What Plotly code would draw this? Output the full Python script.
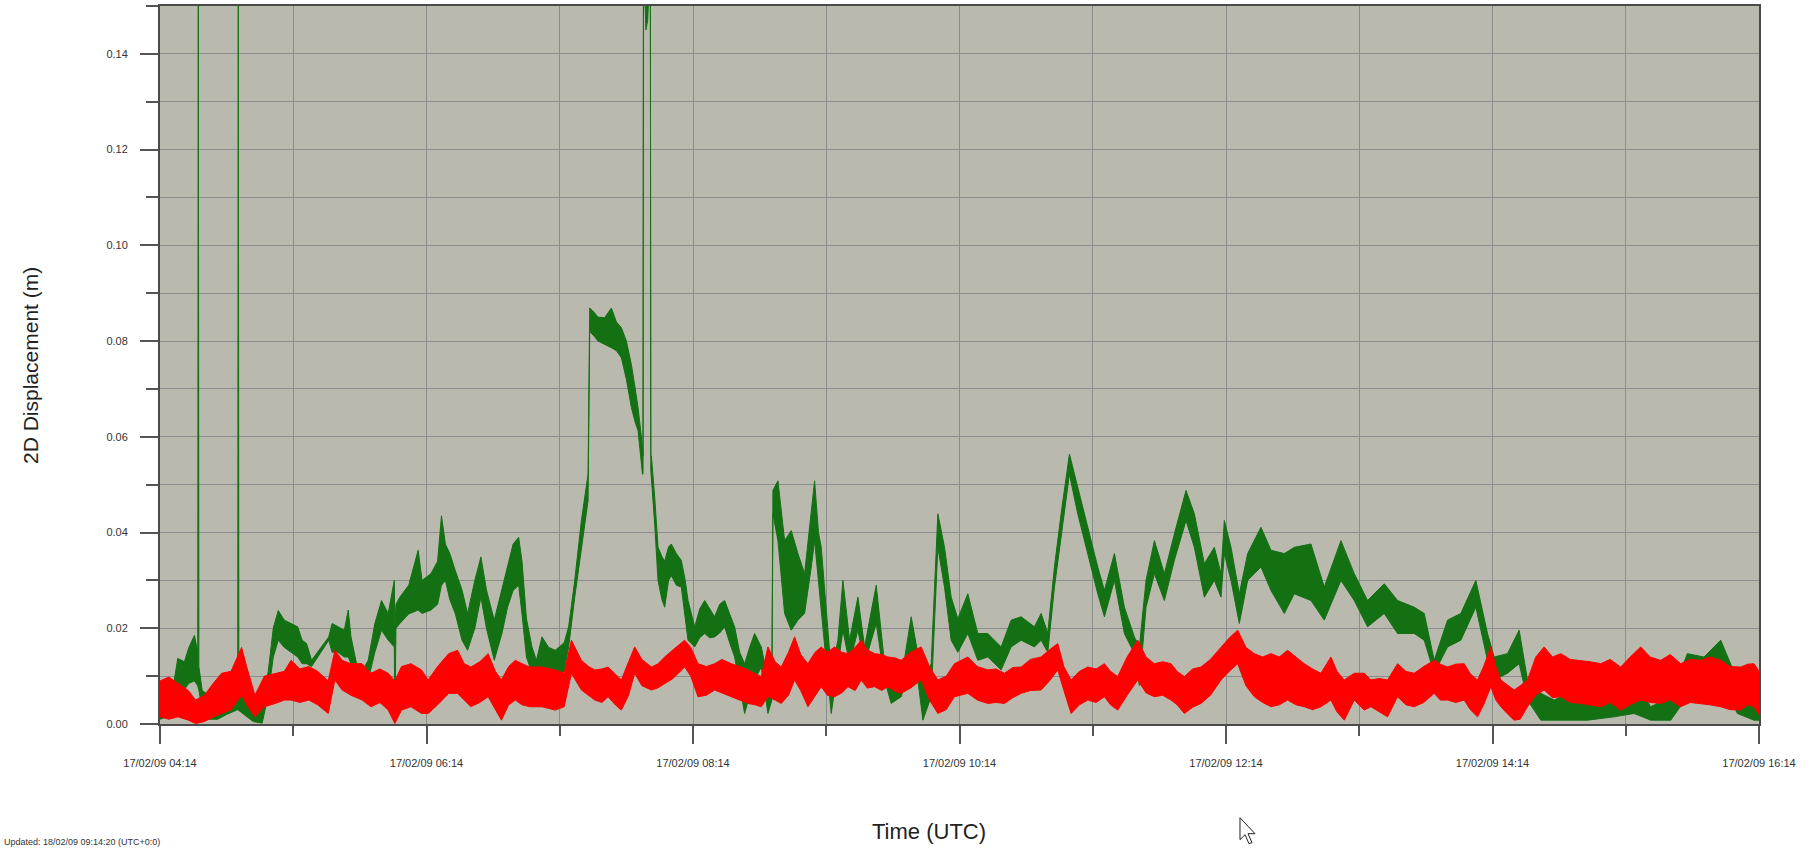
import pandas as pd
import plotly.graph_objects as go

# Session start (UTC); sample times below are minutes after this instant
START = pd.Timestamp("2009-02-17 04:14")
END = pd.Timestamp("2009-02-17 16:14")

# Green receiver: envelope (low / high) of the 2D displacement, metres
green_minutes = [0, 3, 6, 8, 11, 13, 15.5, 17.0, 17.25, 17.5, 19, 22, 26, 30, 35.0, 35.25, 35.5, 38, 42, 46,
                 48.75, 51, 53.25, 56, 59, 62, 64, 66, 68.25, 76, 77.5, 80, 83, 84.75, 86, 88.5, 92, 93.75,
                 96.75, 99.75, 102.75, 105.5, 105.75, 106.25, 108, 112, 116.25, 118, 122, 125, 126.75,
                 128.5, 130.5, 133, 136, 138.5, 141.75, 144.5, 147, 150.5, 154, 156.5, 159, 161.5, 163,
                 165, 167.5, 169.5, 172, 175, 178, 182, 184, 186.75, 189.75, 192.75, 193.5, 195.5, 197.25,
                 200.25, 203.25, 205.5, 207.75, 210, 212.25, 214, 215.25, 217.25, 217.5, 217.7, 218.8,
                 219.6, 220.8, 221.0, 221.25, 222.75, 224.25, 226, 227.25, 229, 230.25, 232.5, 234.75,
                 236.5, 237.75, 240.75, 243, 245.25, 247.5, 249.75, 252, 254.25, 256.5, 258.75, 261,
                 263.25, 265.5, 267.75, 270.75, 272.5, 273.75, 275.5, 276, 278.25, 281.25, 284.25, 287.25,
                 290.25, 293.25, 294.75, 296.5, 297.75, 300.75, 302.25, 305.25, 307.5, 310.5, 314.25,
                 317.25, 322.5, 326.25, 329.25, 333.75, 338.25, 341.25, 343.5, 347.25, 350.25, 353.25,
                 356.25, 359.25, 363.75, 368.25, 372.75, 378.75, 383.25, 387.75, 393.75, 396.75, 399.75,
                 402.75, 405.75, 409.5, 413.25, 417.75, 422.25, 425.25, 429.75, 434.25, 438.75, 441, 444,
                 447.75, 452.25, 456.75, 462, 465.75, 470.25, 474.75, 477.75, 479.25, 482.25, 486, 489.75,
                 495.75, 500.25, 506.25, 510.75, 518.25, 524.25, 531.75, 537.75, 543.75, 551.25, 557.25,
                 564.75, 569.25, 573.75, 579.75, 585.75, 592.5, 597.75, 600.75, 606.75, 612, 615.75,
                 621.75, 627.75, 636.75, 642.75, 654.75, 663.75, 671.25, 680.25, 687.75, 695.25, 702.75,
                 710.25, 717.75, 720]
green_low = [0.0010, 0.0015, 0.0030, 0.0070, 0.0072, 0.0085, 0.0090, 0.0080, 0.0080, 0.0070, 0.0030, 0.0010,
             0.0010, 0.0020, 0.0030, 0.0030, 0.0030, 0.0020, 0.0005, 0.0002,
             0.0060, 0.0140, 0.0175, 0.0160, 0.0150, 0.0140, 0.0126, 0.0126, 0.0120, 0.0175, 0.0150, 0.0150,
             0.0140, 0.0140, 0.0126, 0.0092, 0.0085, 0.0092,
             0.0150, 0.0196, 0.0175, 0.0161, 0.0005, 0.0200, 0.0210, 0.0230, 0.0238, 0.0231, 0.0238, 0.0250,
             0.0290,
             0.0300, 0.0260, 0.0230, 0.0175, 0.0154, 0.0200, 0.0265, 0.0200, 0.0133, 0.0190, 0.0244, 0.0279,
             0.0290, 0.0230,
             0.0140, 0.0106, 0.0092, 0.0119, 0.0100, 0.0100, 0.0110, 0.0161, 0.0265, 0.0369, 0.0467, 0.0820,
             0.0810, 0.0800,
             0.0793, 0.0786, 0.0780, 0.0765, 0.0720, 0.0661, 0.0630, 0.0613, 0.0522, 0.0522, 0.1600, 0.1450,
             0.1470, 0.1600, 0.0530, 0.0500, 0.0418, 0.0300, 0.0260, 0.0244, 0.0300, 0.0310, 0.0290, 0.0286,
             0.0220, 0.0175, 0.0161, 0.0180, 0.0189, 0.0180, 0.0182, 0.0190, 0.0203, 0.0170, 0.0140, 0.0080,
             0.0022, 0.0060, 0.0092, 0.0119, 0.0060, 0.0022, 0.0050, 0.0439, 0.0383, 0.0231, 0.0196, 0.0217,
             0.0231, 0.0328, 0.0383, 0.0300, 0.0231, 0.0092, 0.0022, 0.0119, 0.0196, 0.0126, 0.0196,
             0.0126, 0.0210, 0.0092, 0.0043, 0.0057, 0.0126, 0.0092, 0.0008, 0.0057, 0.0369, 0.0286,
             0.0175, 0.0150, 0.0189, 0.0133, 0.0140, 0.0113, 0.0161, 0.0175, 0.0161, 0.0175, 0.0150,
             0.0286, 0.0397, 0.0522, 0.0439, 0.0356, 0.0272, 0.0224, 0.0300, 0.0189, 0.0147, 0.0080, 0.0244,
             0.0314, 0.0258, 0.0342, 0.0425, 0.0369, 0.0265, 0.0300, 0.0265, 0.0356, 0.0300, 0.0210, 0.0300,
             0.0328, 0.0279, 0.0231, 0.0272, 0.0258, 0.0217, 0.0300, 0.0258, 0.0203, 0.0231, 0.0189,
             0.0189, 0.0175, 0.0106, 0.0161, 0.0175, 0.0244, 0.0133, 0.0092, 0.0106, 0.0126, 0.0050,
             0.0008, 0.0008, 0.0008, 0.0008, 0.0015, 0.0022, 0.0008, 0.0008, 0.0057, 0.0057, 0.0092,
             0.0022, 0.0008, 0.0008]
green_high = [0.0060, 0.0070, 0.0080, 0.0137, 0.0130, 0.0160, 0.0185, 0.0150, 0.1600, 0.0120, 0.0070, 0.0060,
              0.0050, 0.0060, 0.0070, 0.1600, 0.0080, 0.0060, 0.0040, 0.0050,
              0.0110, 0.0200, 0.0237, 0.0217, 0.0210, 0.0203, 0.0175, 0.0168, 0.0133, 0.0182, 0.0210, 0.0203,
              0.0196, 0.0238, 0.0182, 0.0126, 0.0119, 0.0133,
              0.0210, 0.0258, 0.0231, 0.0300, 0.0200, 0.0250, 0.0265, 0.0290, 0.0363, 0.0300, 0.0314, 0.0340,
              0.0435,
              0.0376, 0.0356, 0.0320, 0.0280, 0.0231, 0.0300, 0.0349, 0.0280, 0.0217, 0.0280, 0.0328, 0.0376,
              0.0390, 0.0340,
              0.0220, 0.0161, 0.0133, 0.0182, 0.0160, 0.0154, 0.0170, 0.0203, 0.0300, 0.0425, 0.0522, 0.0869,
              0.0860, 0.0850,
              0.0849, 0.0869, 0.0840, 0.0828, 0.0800, 0.0751, 0.0700, 0.0661, 0.0580, 0.0560, 0.1600, 0.1600,
              0.1600, 0.1600, 0.0560, 0.0560, 0.0474, 0.0369, 0.0350, 0.0340, 0.0370, 0.0376, 0.0356, 0.0342,
              0.0300, 0.0258, 0.0203, 0.0240, 0.0258, 0.0240, 0.0224, 0.0250, 0.0258, 0.0230, 0.0203, 0.0150,
              0.0126, 0.0160, 0.0189, 0.0161, 0.0120, 0.0092, 0.0110, 0.0488, 0.0508, 0.0383, 0.0404, 0.0356,
              0.0314, 0.0439, 0.0508, 0.0400, 0.0369, 0.0196, 0.0106, 0.0175, 0.0300, 0.0175, 0.0265,
              0.0161, 0.0290, 0.0126, 0.0092, 0.0092, 0.0224, 0.0147, 0.0092, 0.0126, 0.0439, 0.0369,
              0.0265, 0.0220, 0.0272, 0.0189, 0.0189, 0.0161, 0.0217, 0.0224, 0.0203, 0.0231, 0.0190,
              0.0328, 0.0439, 0.0564, 0.0494, 0.0411, 0.0328, 0.0279, 0.0356, 0.0244, 0.0182, 0.0161, 0.0300,
              0.0383, 0.0314, 0.0397, 0.0488, 0.0439, 0.0335, 0.0369, 0.0314, 0.0425, 0.0369, 0.0272, 0.0356,
              0.0411, 0.0363, 0.0356, 0.0369, 0.0376, 0.0286, 0.0383, 0.0314, 0.0258, 0.0293, 0.0258,
              0.0244, 0.0231, 0.0133, 0.0217, 0.0231, 0.0300, 0.0189, 0.0140, 0.0147, 0.0196, 0.0092,
              0.0064, 0.0050, 0.0071, 0.0043, 0.0126, 0.0092, 0.0036, 0.0057, 0.0147, 0.0140, 0.0175,
              0.0092, 0.0057, 0.0060]

# Red receiver: envelope (low / high) of the 2D displacement, metres
red_minutes = [0, 4, 8, 12.75, 16, 20, 24, 27.75, 32, 36.75, 39, 42.75, 47, 52, 56, 59, 63, 67, 71, 75.75,
               78.75, 82, 86, 91, 95, 99, 102.75, 105.75, 108.75, 113, 117.75, 120.75, 125, 130, 134, 137,
               140, 144, 147.75, 151, 153.75, 157, 160, 163, 166.5, 172, 178, 182, 185.25, 189.75, 193,
               195.75, 199, 201.75, 205, 207.75, 211, 213.75, 217, 221.25, 224, 227.25, 231, 236.25, 239,
               242.25, 246, 249.75, 253, 257.25, 261, 264.75, 268, 270.75, 273.75, 277, 279.75, 283,
               285.75, 288.5, 291.75, 295, 297.75, 300.5, 303.75, 307, 309.75, 313, 315.75, 318.5, 321.75,
               325, 327.75, 331, 333.75, 338, 342.75, 346.5, 350.25, 354, 357.75, 363.75, 368, 372.75,
               376.5, 380.25, 384, 387.75, 392, 396.75, 400.5, 404.25, 407, 410.25, 414, 417.75, 421.5,
               425.25, 428, 431.25, 435.5, 440.25, 444, 447.75, 451.5, 455.25, 458, 461.25, 465, 468.75,
               473, 477.75, 481.5, 485.25, 489, 492.75, 496.5, 500.25, 504, 507.75, 511.5, 515.25, 519,
               522.75, 527.25, 530, 533.25, 537.75, 542.25, 545.25, 549, 552.75, 557.25, 561, 564.75, 569,
               573.75, 576.5, 579.75, 583.5, 587.25, 590, 593.25, 596, 599.25, 601.5, 603.75, 607, 609.75,
               612.5, 615.75, 619.5, 623.25, 627, 630.75, 635, 639.75, 644, 648.75, 653, 657.75, 662,
               666.75, 671, 675.75, 680, 684.75, 689, 693.75, 698, 702.75, 707, 711.75, 715, 717.75, 720]
red_low = [0.0015, 0.0010, 0.0015, 0.0008, 0.0001, 0.0005, 0.0015, 0.0022, 0.0030, 0.0060, 0.0040, 0.0015,
           0.0036, 0.0043, 0.0050, 0.0050, 0.0045, 0.0050, 0.0040, 0.0022,
           0.0092, 0.0071, 0.0060, 0.0050, 0.0036, 0.0045, 0.0029, 0.0001, 0.0029, 0.0036, 0.0022, 0.0022,
           0.0040, 0.0064, 0.0064, 0.0050,
           0.0036, 0.0045, 0.0057, 0.0030, 0.0008, 0.0040, 0.0050, 0.0040, 0.0036, 0.0036, 0.0029, 0.0036,
           0.0106, 0.0071, 0.0060,
           0.0050, 0.0045, 0.0057, 0.0040, 0.0029, 0.0060, 0.0106, 0.0080, 0.0071, 0.0075, 0.0085, 0.0095,
           0.0119, 0.0100,
           0.0057, 0.0060, 0.0071, 0.0065, 0.0057, 0.0050, 0.0043, 0.0040, 0.0036, 0.0057, 0.0050, 0.0043,
           0.0060,
           0.0092, 0.0070, 0.0036, 0.0060, 0.0078, 0.0060, 0.0057, 0.0065, 0.0078, 0.0070, 0.0092, 0.0075,
           0.0078,
           0.0070, 0.0078, 0.0068, 0.0064, 0.0075, 0.0092, 0.0050, 0.0022, 0.0030, 0.0057, 0.0064, 0.0050,
           0.0043,
           0.0045, 0.0043, 0.0055, 0.0064, 0.0070, 0.0071, 0.0090, 0.0113, 0.0070, 0.0022, 0.0040, 0.0050,
           0.0045,
           0.0057, 0.0040, 0.0029, 0.0060, 0.0092, 0.0065, 0.0057, 0.0060, 0.0050, 0.0040, 0.0022, 0.0035,
           0.0043,
           0.0060, 0.0092, 0.0110, 0.0126, 0.0080, 0.0057, 0.0045, 0.0036, 0.0040, 0.0050, 0.0040, 0.0036,
           0.0030,
           0.0036, 0.0050, 0.0025, 0.0008, 0.0050, 0.0029, 0.0036, 0.0025, 0.0015, 0.0057, 0.0040, 0.0036,
           0.0045,
           0.0064, 0.0050, 0.0050, 0.0045, 0.0050, 0.0030, 0.0015, 0.0040, 0.0078, 0.0050, 0.0036, 0.0020,
           0.0008,
           0.0010, 0.0036, 0.0060, 0.0071, 0.0055, 0.0057, 0.0045, 0.0043, 0.0040, 0.0036, 0.0045, 0.0029,
           0.0040,
           0.0050, 0.0045, 0.0043, 0.0050, 0.0036, 0.0045, 0.0043, 0.0040, 0.0036, 0.0030, 0.0029, 0.0040,
           0.0036, 0.0020]
red_high = [0.0090, 0.0098, 0.0085, 0.0070, 0.0050, 0.0060, 0.0085, 0.0106, 0.0110, 0.0160, 0.0120, 0.0060,
            0.0100, 0.0105, 0.0110, 0.0133, 0.0115, 0.0120, 0.0110, 0.0090,
            0.0154, 0.0133, 0.0126, 0.0126, 0.0106, 0.0115, 0.0106, 0.0090, 0.0120, 0.0126, 0.0113, 0.0092,
            0.0120, 0.0147, 0.0154, 0.0126,
            0.0119, 0.0130, 0.0147, 0.0110, 0.0092, 0.0120, 0.0133, 0.0126, 0.0119, 0.0119, 0.0113, 0.0106,
            0.0175, 0.0133, 0.0120,
            0.0113, 0.0115, 0.0119, 0.0105, 0.0092, 0.0130, 0.0161, 0.0135, 0.0119, 0.0125, 0.0140, 0.0155,
            0.0175, 0.0160,
            0.0126, 0.0120, 0.0126, 0.0135, 0.0126, 0.0120, 0.0113, 0.0105, 0.0099, 0.0161, 0.0130, 0.0119,
            0.0150,
            0.0182, 0.0145, 0.0126, 0.0150, 0.0161, 0.0150, 0.0161, 0.0150, 0.0147, 0.0160, 0.0175, 0.0155,
            0.0147,
            0.0145, 0.0140, 0.0138, 0.0133, 0.0150, 0.0161, 0.0120, 0.0092, 0.0100, 0.0126, 0.0140, 0.0120,
            0.0113,
            0.0115, 0.0106, 0.0118, 0.0119, 0.0135, 0.0140, 0.0155, 0.0168, 0.0120, 0.0092, 0.0110, 0.0119,
            0.0115,
            0.0126, 0.0110, 0.0099, 0.0140, 0.0175, 0.0140, 0.0126, 0.0130, 0.0126, 0.0110, 0.0099, 0.0115,
            0.0119,
            0.0135, 0.0161, 0.0180, 0.0196, 0.0160, 0.0147, 0.0140, 0.0147, 0.0140, 0.0154, 0.0140, 0.0126,
            0.0115,
            0.0106, 0.0140, 0.0110, 0.0092, 0.0106, 0.0106, 0.0092, 0.0095, 0.0092, 0.0126, 0.0110, 0.0106,
            0.0120,
            0.0133, 0.0125, 0.0119, 0.0125, 0.0126, 0.0105, 0.0092, 0.0120, 0.0161, 0.0120, 0.0092, 0.0080,
            0.0071,
            0.0080, 0.0092, 0.0140, 0.0161, 0.0140, 0.0147, 0.0135, 0.0133, 0.0130, 0.0126, 0.0135, 0.0119,
            0.0140,
            0.0161, 0.0140, 0.0133, 0.0145, 0.0126, 0.0135, 0.0133, 0.0140, 0.0133, 0.0120, 0.0119, 0.0125,
            0.0126, 0.0110]

# Axis ticks
Y_TICKS = [0.00, 0.02, 0.04, 0.06, 0.08, 0.10, 0.12, 0.14]
TICK_FORMAT = "%d/%m/%y %H:%M"

GREEN = "#137013"
RED = "#ff0000"
PLOT_BG = "#b9b9ad"
GRID = "#8b8c8e"

W, H = 1820, 850
L, R, T, B = 160, 61, 4, 126
PW, PH = W - L - R, H - T - B


def times(minutes):
    return [START + pd.Timedelta(minutes=m) for m in minutes]


def band(minutes, low, high, color, name):
    x = times(minutes)
    return go.Scatter(
        x=x + x[::-1],
        y=high + low[::-1],
        mode="lines",
        fill="toself",
        fillcolor=color,
        line=dict(color=color, width=1),
        name=name,
        hoverinfo="skip",
        showlegend=False,
    )


def px_to_paper(px, py):
    return (px - L) / PW, (H - B - py) / PH


fig = go.Figure()
fig.add_trace(band(green_minutes, green_low, green_high, GREEN, "Green"))
fig.add_trace(band(red_minutes, red_low, red_high, RED, "Red"))

fig.update_layout(
    width=W,
    height=H,
    margin=dict(l=L, r=R, t=T, b=B),
    paper_bgcolor="white",
    plot_bgcolor=PLOT_BG,
    font=dict(family="Liberation Sans, Arial, sans-serif", color="#222"),
    showlegend=False,
)

fig.update_xaxes(
    type="date",
    range=[START, END],
    tick0=START,
    dtick=2 * 3600 * 1000,
    tickformat=TICK_FORMAT,
    ticks="outside",
    ticklen=18,
    tickwidth=1.5,
    tickcolor="#555",
    tickfont=dict(size=11, color="#333"),
    ticklabelstandoff=10,
    showgrid=True,
    gridcolor=GRID,
    gridwidth=1,
    showline=True,
    linecolor="#4a4a4a",
    linewidth=2,
    mirror=True,
    zeroline=False,
    minor=dict(tick0=START, dtick=3600 * 1000, ticks="outside", ticklen=10, tickwidth=1.5,
               tickcolor="#555", showgrid=True, gridcolor=GRID, gridwidth=1),
)

fig.update_yaxes(
    range=[0, 0.15],
    tickvals=Y_TICKS,
    tickformat=".2f",
    ticks="outside",
    ticklen=18,
    tickwidth=1.5,
    tickcolor="#555",
    tickfont=dict(size=11, color="#333"),
    ticklabelstandoff=10,
    showgrid=True,
    gridcolor=GRID,
    gridwidth=1,
    showline=True,
    linecolor="#4a4a4a",
    linewidth=2,
    mirror=True,
    zeroline=False,
    minor=dict(dtick=0.01, ticks="outside", ticklen=12, tickwidth=1.5, tickcolor="#555",
               showgrid=True, gridcolor=GRID, gridwidth=1),
)

# Axis titles
ytx, yty = px_to_paper(31, 365)
xtx, xty = px_to_paper(929, 832)
fig.add_annotation(text="2D Displacement (m)", xref="paper", yref="paper", x=ytx, y=yty,
                   textangle=-90, showarrow=False, font=dict(size=21, color="#222"),
                   xanchor="center", yanchor="middle")
fig.add_annotation(text="Time (UTC)", xref="paper", yref="paper", x=xtx, y=xty,
                   showarrow=False, font=dict(size=22, color="#222"),
                   xanchor="center", yanchor="middle")

# Update stamp at the bottom edge of the page
ftx, fty = px_to_paper(2, 835)
fig.add_annotation(text="Updated: 18/02/09 09:14:20 (UTC+0:0)", xref="paper", yref="paper",
                   x=ftx, y=fty, showarrow=False, font=dict(size=9, color="#333"),
                   xanchor="left", yanchor="top")

# Mouse pointer
ptr = [(0, 0), (0, 22), (5, 17), (9, 26), (12, 25), (8, 16), (15, 16)]
ox, oy = 1240, 818
pts = [px_to_paper(ox + a, oy + b) for a, b in ptr]
path = "M " + " L ".join(f"{x:.5f},{y:.5f}" for x, y in pts) + " Z"
fig.add_shape(type="path", path=path, xref="paper", yref="paper",
              fillcolor="white", line=dict(color="#222", width=1), layer="above")

fig.write_html("out.html")
